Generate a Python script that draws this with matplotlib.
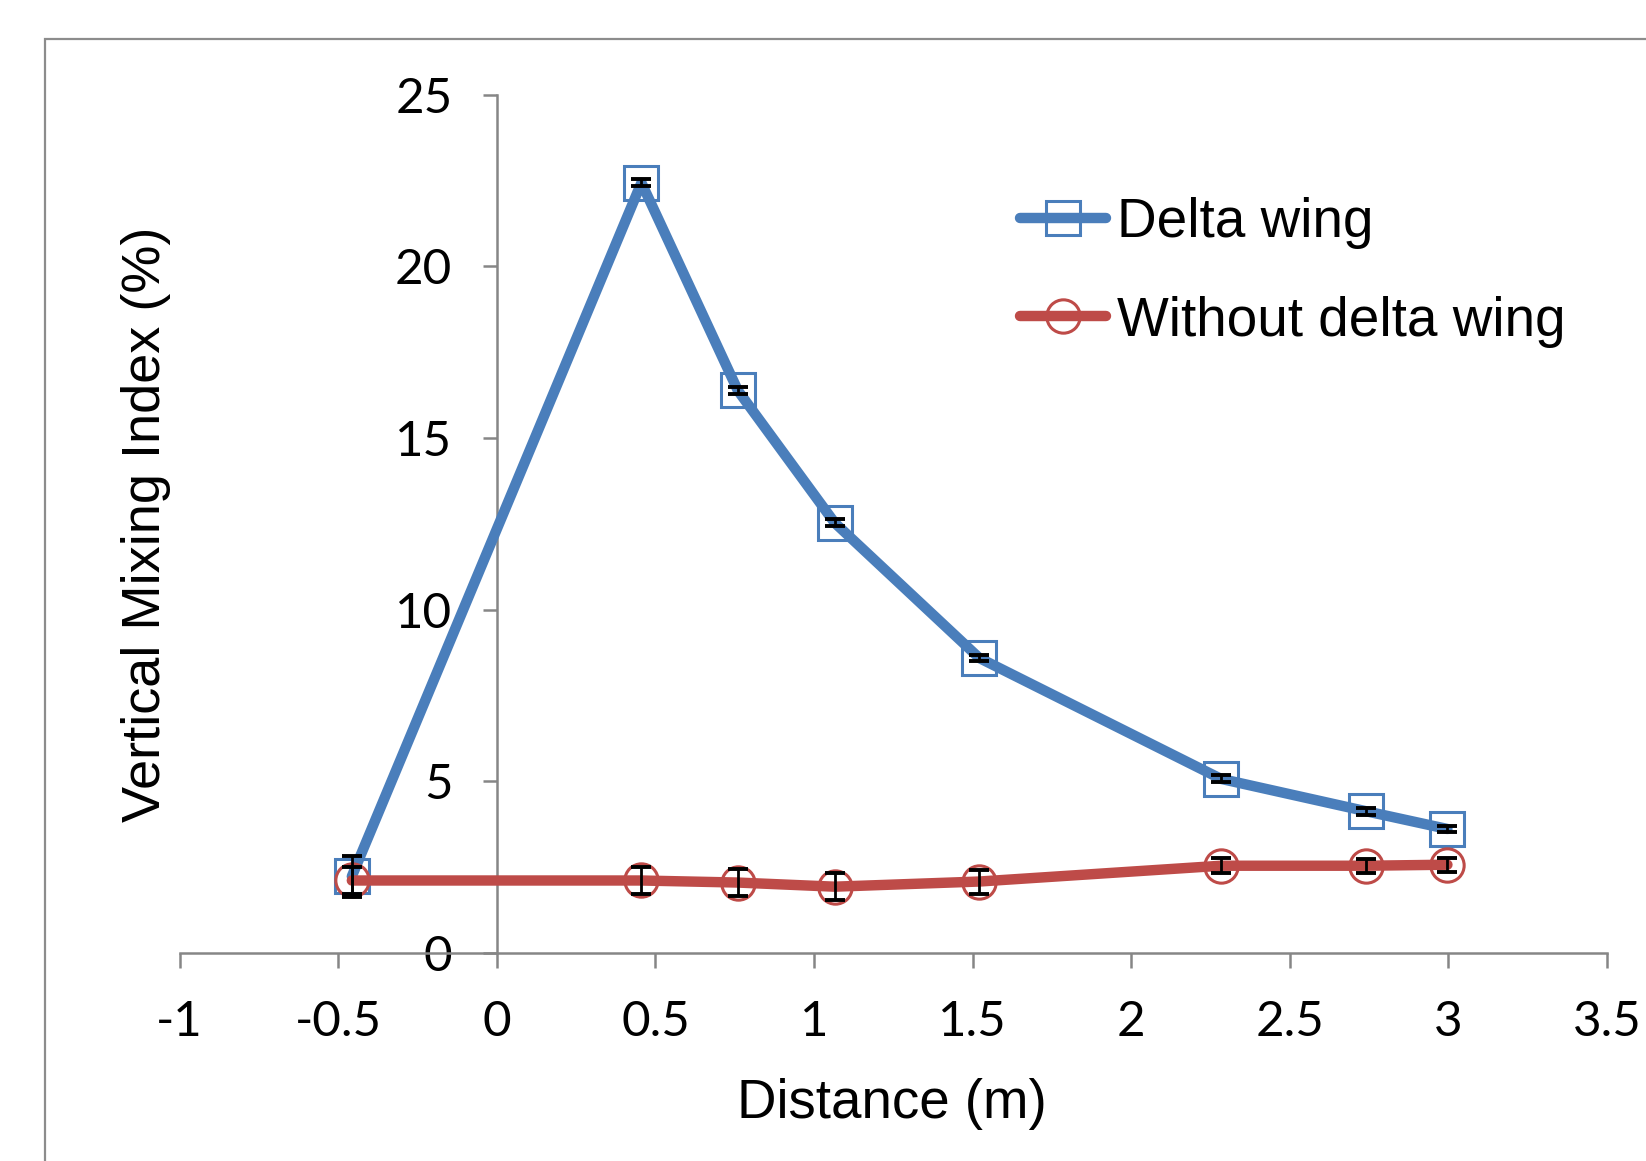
import matplotlib.pyplot as plt
from matplotlib.patches import Rectangle

# data
distance = [-0.457, 0.456, 0.760, 1.065, 1.521, 2.283, 2.739, 2.997]
delta_wing = [2.23, 22.43, 16.38, 12.53, 8.59, 5.07, 4.13, 3.61]
delta_err = [0.6, 0.1, 0.1, 0.1, 0.1, 0.1, 0.1, 0.1]
no_delta = [2.11, 2.11, 2.05, 1.93, 2.08, 2.54, 2.54, 2.57]
no_delta_err = [0.4, 0.4, 0.4, 0.4, 0.35, 0.22, 0.2, 0.2]

xticks = [-1, -0.5, 0, 0.5, 1, 1.5, 2, 2.5, 3, 3.5]
xtick_labels = ['-1', '-0.5', '0', '0.5', '1', '1.5', '2', '2.5', '3', '3.5']
yticks = [0, 5, 10, 15, 20, 25]
ytick_labels = ['0', '5', '10', '15', '20', '25']

blue = '#4A7EBB'
red = '#BE4B48'
grey = '#868686'

fig = plt.figure(figsize=(16.46, 11.61), dpi=100)
ax = fig.add_axes([0.1091, 0.1792, 0.8672, 0.7394])

# outer chart frame (only left and top visible)
fig.patches.append(Rectangle((45 / 1646, -0.1), 2, 1 - 39 / 1161 + 0.1,
                             transform=fig.transFigure, fill=False,
                             edgecolor='#8c8c8c', linewidth=1.6))

ax.plot(distance, delta_wing, color=blue, lw=7.5, marker='s', ms=24,
        mfc='none', mec=blue, mew=2.2, label='Delta wing', zorder=3,
        solid_capstyle='round')
ax.plot(distance, no_delta, color=red, lw=7.5, marker='o', ms=24,
        mfc='none', mec=red, mew=2.2, label='Without delta wing', zorder=3,
        solid_capstyle='round')
ax.errorbar(distance, delta_wing, yerr=delta_err, fmt='none', ecolor='black',
            elinewidth=2, capsize=7.5, capthick=2.8, zorder=4)
ax.errorbar(distance, no_delta, yerr=no_delta_err, fmt='none', ecolor='black',
            elinewidth=2, capsize=7.5, capthick=2.8, zorder=4)

ax.set_xlim(-1, 3.5)
ax.set_ylim(0, 25)
ax.spines['left'].set_position(('data', 0))
ax.spines['top'].set_visible(False)
ax.spines['right'].set_visible(False)
for s in ['left', 'bottom']:
    ax.spines[s].set_color(grey)
    ax.spines[s].set_linewidth(1.8)

ax.set_xticks(xticks)
ax.set_xticklabels(xtick_labels)
ax.set_yticks(yticks)
ax.set_yticklabels(ytick_labels)
ax.tick_params(axis='x', direction='out', length=11, width=1.8, color=grey,
               pad=23, labelsize=35.5)
ax.tick_params(axis='y', direction='out', length=10, width=1.8, color=grey,
               pad=22, labelsize=35.5)
for lab in ax.get_xticklabels() + ax.get_yticklabels():
    lab.set_fontfamily('Lato')

fig.text(0.542, 0.0495, 'Distance (m)', ha='center', va='center',
         fontsize=39.3, family='Liberation Sans')
fig.text(0.0885, 0.548, 'Vertical Mixing Index (%)', ha='center', va='center',
         rotation=90, fontsize=39, family='Liberation Sans')

ax.legend(loc='upper left', bbox_to_anchor=(0.6028, 0.854),
          bbox_transform=fig.transFigure, frameon=False, borderpad=0,
          handlelength=1.58, handletextpad=0.2, labelspacing=0.85,
          prop={'family': 'Liberation Sans', 'size': 39.5})

fig.savefig('out.png', dpi=100)
